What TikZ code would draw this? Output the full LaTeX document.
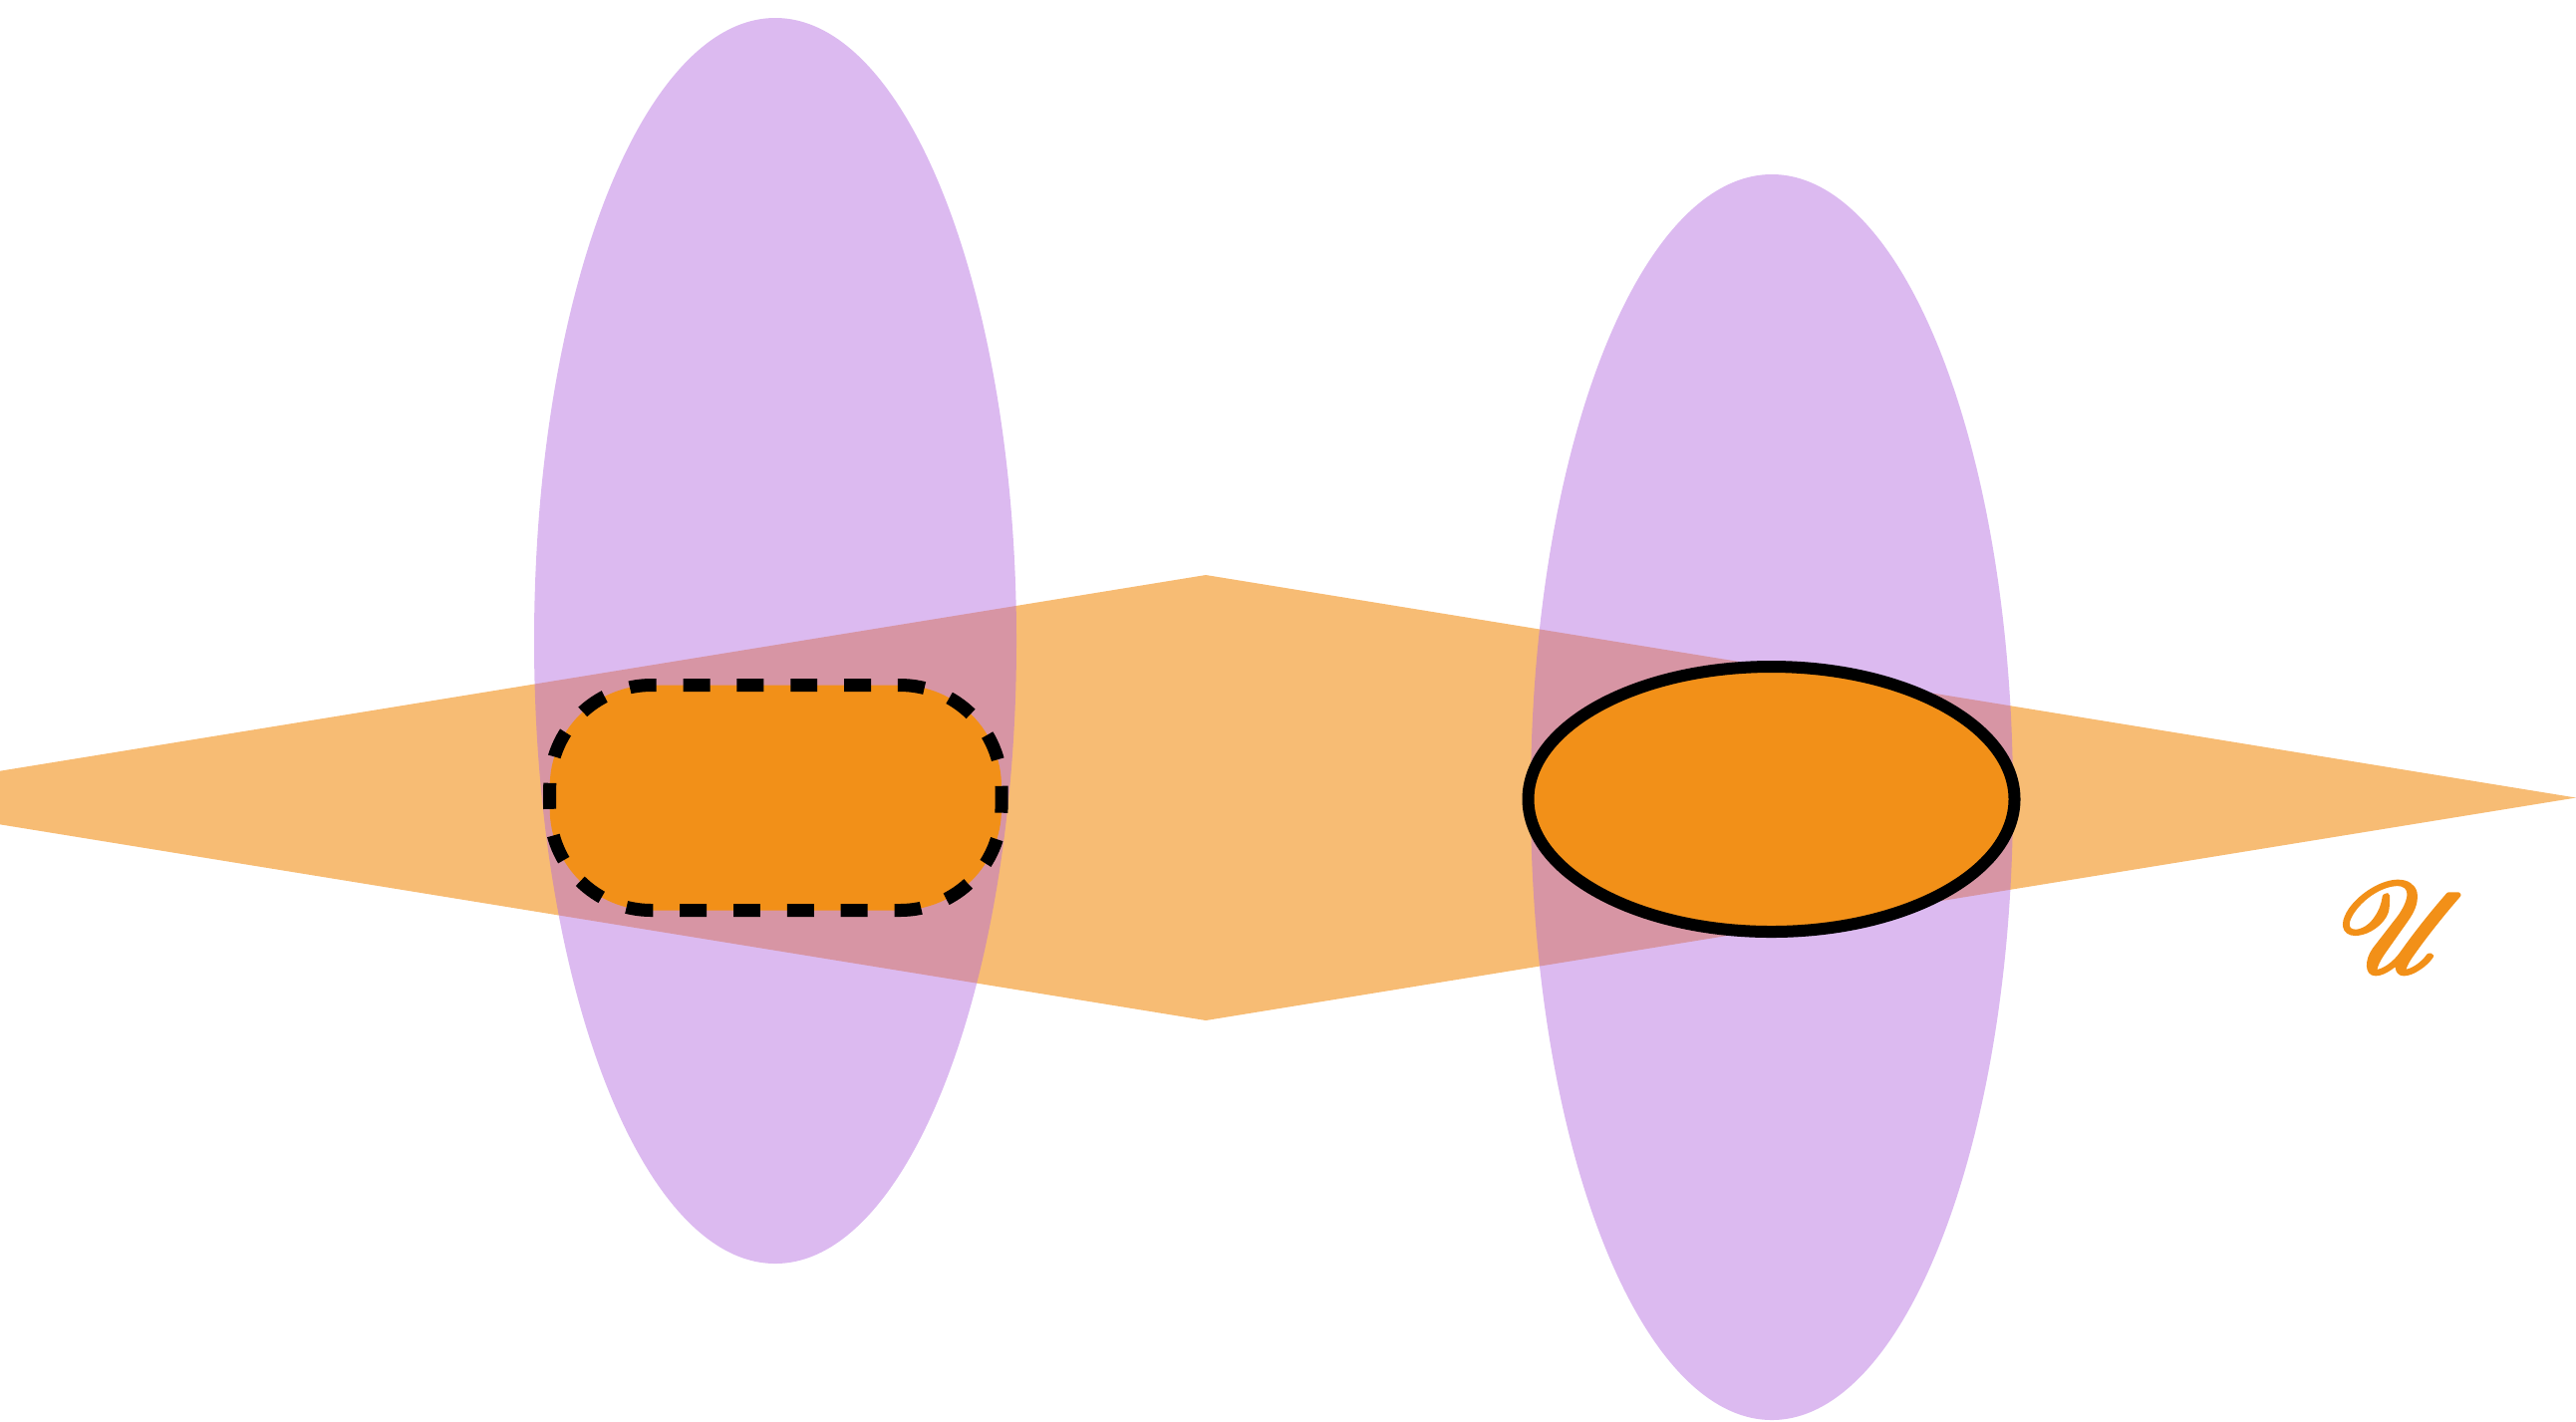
\documentclass[tikz,border=0pt]{standalone}
\usepackage{graphicx}
\usepackage{mathrsfs}
\definecolor{orangedeep}{HTML}{F29018}
\definecolor{purplebase}{RGB}{177,102,222}
\tikzset{
  plane/.style={fill=orangedeep, fill opacity=0.6, draw=none},
  purpleset/.style={fill=purplebase, fill opacity=0.45, draw=none},
  dashedset/.style={fill=orangedeep, draw=black, line width=0.13cm, dash pattern=on 0.269cm off 0.269cm, dash phase=0.0465cm},
  solidset/.style={fill=orangedeep, draw=black, line width=0.12cm},
}
\newcommand{\heavyglyph}[1]{\special{pdf:literal q 2 Tr 0.7 w 0.949 0.565 0.094 RG}#1\special{pdf:literal Q}}
\begin{document}
\begin{tikzpicture}[x=0.01cm,y=-0.01cm]
\useasboundingbox (0,0) rectangle (2585,1426);
\clip (0,0) rectangle (2585,1426);
% plane
\path[plane] (-165,800.5) -- (1210,577) -- (2585,800.5) -- (1210,1024) -- cycle;
% purple ellipses
\path[purpleset] (778,643) ellipse [x radius=242, y radius=625];
\path[purpleset] (1778,800) ellipse [x radius=242, y radius=625];
% inner sets
\draw[dashedset, rounded corners=1.02cm] (551.7,687.5) rectangle (1005,913.5);
\draw[solidset] (1777.5,802) ellipse [x radius=244, y radius=133];
% label
\node[text=orangedeep, inner sep=0pt] (lbl) at (2413,931) {\scalebox{1.45}{\heavyglyph{\fontsize{24.88}{25}\selectfont$\mathscr{U}$}}};
\end{tikzpicture}
\end{document}
